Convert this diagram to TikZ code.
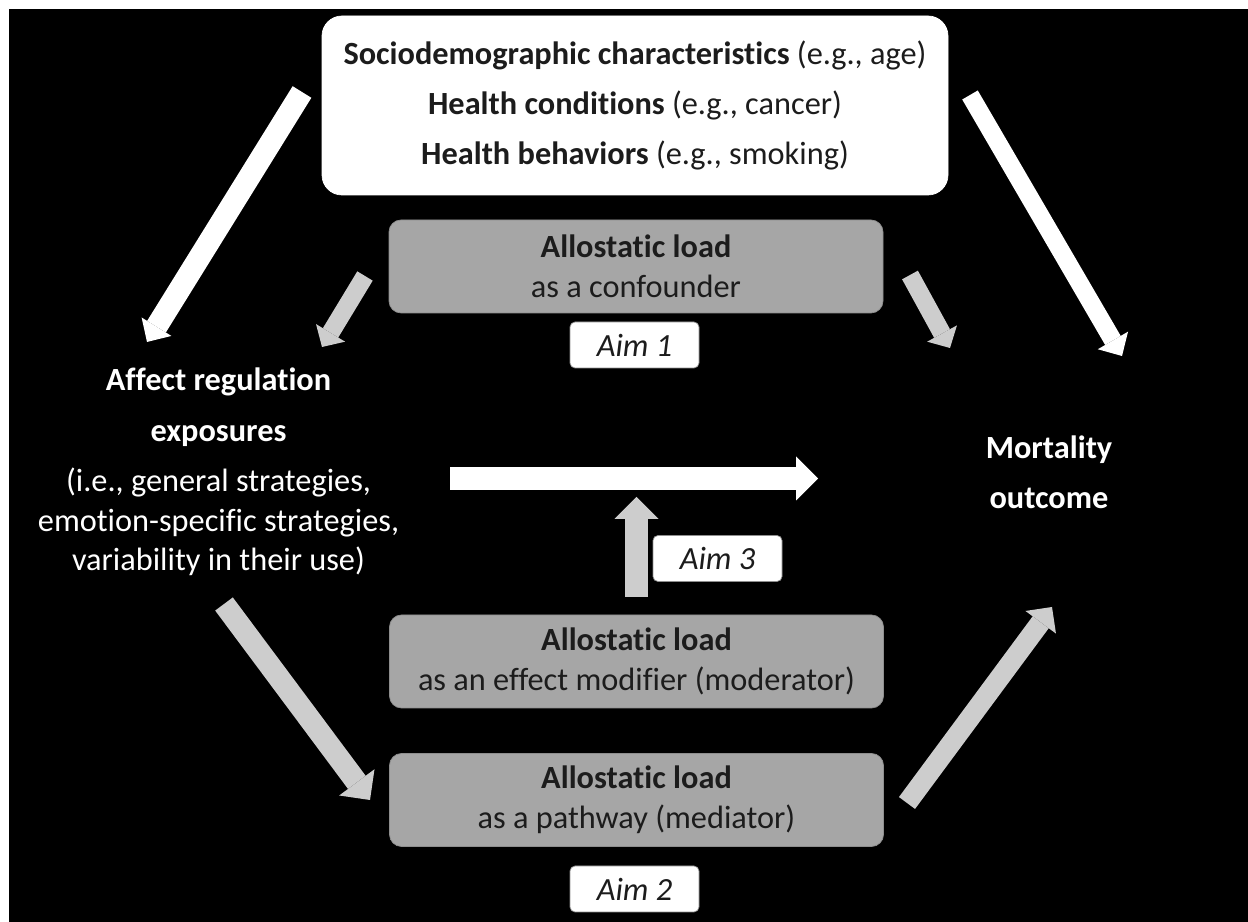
\documentclass[tikz,border=0pt]{standalone}
\usepackage{fontspec}
\setmainfont{Carlito}[Ligatures=NoCommon]
\usetikzlibrary{arrows.meta,positioning}
\usepackage{xcolor}
\definecolor{ALGray}{HTML}{A6A6A6}
\definecolor{ALEdge}{HTML}{8E8E8E}
\definecolor{ALArrow}{HTML}{CDCDCD}
\definecolor{ALInk}{HTML}{1C1C1C}
\newcommand{\alfont}{\fontsize{18.4}{22.5}\selectfont}

\begin{document}
\begin{tikzpicture}[
    covar/.style={draw=white,fill=white,rounded corners=0.4cm,text=ALInk,
      minimum width=12.52cm,minimum height=3.58cm,align=center,
      font=\fontsize{18.4}{28.5}\selectfont},
    load/.style={draw=ALEdge,fill=ALGray,rounded corners=0.24cm,text=ALInk,
      minimum width=9.88cm,minimum height=1.86cm,align=center,font=\alfont},
    aim/.style={draw=ALEdge,fill=white,rounded corners=0.1cm,text=ALInk,
      minimum width=2.58cm,minimum height=0.92cm,font=\alfont\itshape},
    varname/.style={text=white,align=center,font=\alfont},
    whitearrow/.style={-{Triangle[width=0.7cm,length=0.36cm,line width=0pt]},
      line width=0.42cm,draw=white},
    grayarrow/.style={-{Triangle[width=0.68cm,length=0.33cm,line width=0pt]},
      line width=0.36cm,draw=ALArrow},
    widearrow/.style={-{Triangle[width=0.88cm,length=0.44cm,line width=0pt]},
      line width=0.45cm}
  ]
    \useasboundingbox (0,0) rectangle (24.96,18.44);
    \fill[white] (0,0) rectangle (24.96,18.44);
    \fill[black] (0.18,0) rectangle (24.96,18.26);

    % covariates and the two variables
    \node[covar] (covar) at (12.70,16.33)
      {\textbf{Sociodemographic characteristics} (e.g., age)\\
       \textbf{Health conditions} (e.g., cancer)\\
       \textbf{Health behaviors} (e.g., smoking)};
    \node[varname] (affect) at (4.37,9.00)
      {\textbf{Affect regulation}\\[0.22cm]
       \textbf{exposures}\\[0.22cm]
       (i.e., general strategies,\\
       emotion-specific strategies,\\
       variability in their use)};
    \node[varname] (mort) at (20.98,8.99)
      {\textbf{Mortality}\\[0.22cm]\textbf{outcome}};

    % the three roles of allostatic load
    \node[load] (confound) at (12.72,13.11)
      {\textbf{Allostatic load}\\as a confounder};
    \node[aim] (aim1) at (12.69,11.54) {Aim 1};
    \node[load] (moderate) at (12.73,5.21)
      {\textbf{Allostatic load}\\as an effect modifier (moderator)};
    \node[aim] (aim3) at (14.35,7.27) {Aim 3};
    \node[load] (mediate) at (12.73,2.44)
      {\textbf{Allostatic load}\\as a pathway (mediator)};
    \node[aim] (aim2) at (12.69,0.66) {Aim 2};

    % arrow ends
    \coordinate (c1a) at (6.04,16.60);  \coordinate (c1b) at (2.94,11.60);
    \coordinate (c2a) at (19.40,16.54); \coordinate (c2b) at (22.44,11.32);
    \coordinate (f1a) at (7.30,12.92);  \coordinate (f1b) at (6.44,11.50);
    \coordinate (f2a) at (18.20,12.94); \coordinate (f2b) at (19.00,11.48);
    \coordinate (ea) at (9.00,8.87);    \coordinate (eb) at (16.36,8.87);
    \coordinate (ma) at (12.73,6.50);   \coordinate (mb) at (12.73,8.50);
    \coordinate (p1a) at (4.48,6.36);   \coordinate (p1b) at (7.40,2.44);
    \coordinate (p2a) at (18.14,2.38);  \coordinate (p2b) at (21.04,6.30);

    \draw[whitearrow,line width=0.44cm] (c1a) -- (c1b);
    \draw[whitearrow,line width=0.36cm] (c2a) -- (c2b);
    \draw[grayarrow] (f1a) -- (f1b); \draw[grayarrow] (f2a) -- (f2b);
    \draw[whitearrow,widearrow] (ea) -- (eb);
    \draw[grayarrow,widearrow] (ma) -- (mb);
    \draw[grayarrow,widearrow,line width=0.44cm] (p1a) -- (p1b);
    \draw[grayarrow,line width=0.40cm,
      -{Triangle[width=0.76cm,length=0.38cm,line width=0pt]}] (p2a) -- (p2b);
  \end{tikzpicture}
\end{document}
